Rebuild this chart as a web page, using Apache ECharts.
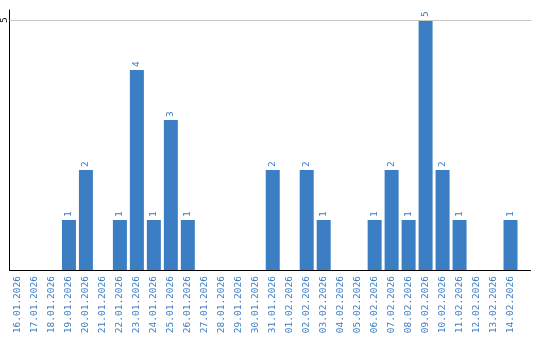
<!DOCTYPE html>
<html><head><meta charset="utf-8">
<script src="https://cdn.jsdelivr.net/npm/echarts@6/dist/echarts.min.js"></script>
<style>html,body{margin:0;padding:0;background:#fff}#c{width:540px;height:340px}</style>
</head><body><div id="c"></div>
<script>
const categories = ["16.01.2026","17.01.2026","18.01.2026","19.01.2026","20.01.2026","21.01.2026","22.01.2026","23.01.2026","24.01.2026","25.01.2026","26.01.2026","27.01.2026","28.01.2026","29.01.2026","30.01.2026","31.01.2026","01.02.2026","02.02.2026","03.02.2026","04.02.2026","05.02.2026","06.02.2026","07.02.2026","08.02.2026","09.02.2026","10.02.2026","11.02.2026","12.02.2026","13.02.2026","14.02.2026"];
const values = [0,0,0,1,2,0,1,4,1,3,1,0,0,0,0,2,0,2,1,0,0,1,2,1,5,2,1,0,0,1];
const yTicks = [5];

const chart = echarts.init(document.getElementById('c'), null, {renderer:'canvas'});
const font = 'DejaVu Sans Mono';
chart.setOption({
  animation:false,
  grid:{left:9, top:10, width:510, bottom:70},
  xAxis:{type:'category', data:categories,
    axisLine:{lineStyle:{color:'#000', width:1}},
    axisTick:{show:false},
    axisLabel:{rotate:90, interval:0, color:'#3b7dc3', fontFamily:font, fontSize:9.5, margin:6}
  },
  yAxis:{type:'value', min:0, max:5.2, interval:5,
    axisLine:{show:true, lineStyle:{color:'#000', width:1}},
    axisTick:{show:false},
    splitLine:{show:false},
    axisLabel:{rotate:90, color:'#000', fontFamily:font, fontSize:9, margin:5,
      align:'center', verticalAlign:'middle', padding:[0,0,0,0],
      formatter:v=> yTicks.includes(v) ? String(v) : ''}
  },
  series:[{type:'bar', data:values.map(v=> v===0 ? null : v), barWidth:14,
    itemStyle:{color:'#3b7ec3'},
    label:{show:true, position:'top', rotate:90, align:'left', verticalAlign:'middle', distance:3,
      color:'#3b7dc3', fontFamily:font, fontSize:9.5},
    markLine:{silent:true, symbol:'none', label:{show:false},
      lineStyle:{color:'#c8c8c8', type:'solid', width:1},
      data: yTicks.map(t=>({yAxis:t}))},
    z:2
  }],
  graphic:[
    {type:'line', shape:{x1:519,y1:270.5,x2:531,y2:270.5}, style:{stroke:'#000',lineWidth:1}},
    {type:'line', shape:{x1:519,y1:20.5,x2:531,y2:20.5}, style:{stroke:'#c8c8c8',lineWidth:1}}
  ]
});
</script></body></html>
